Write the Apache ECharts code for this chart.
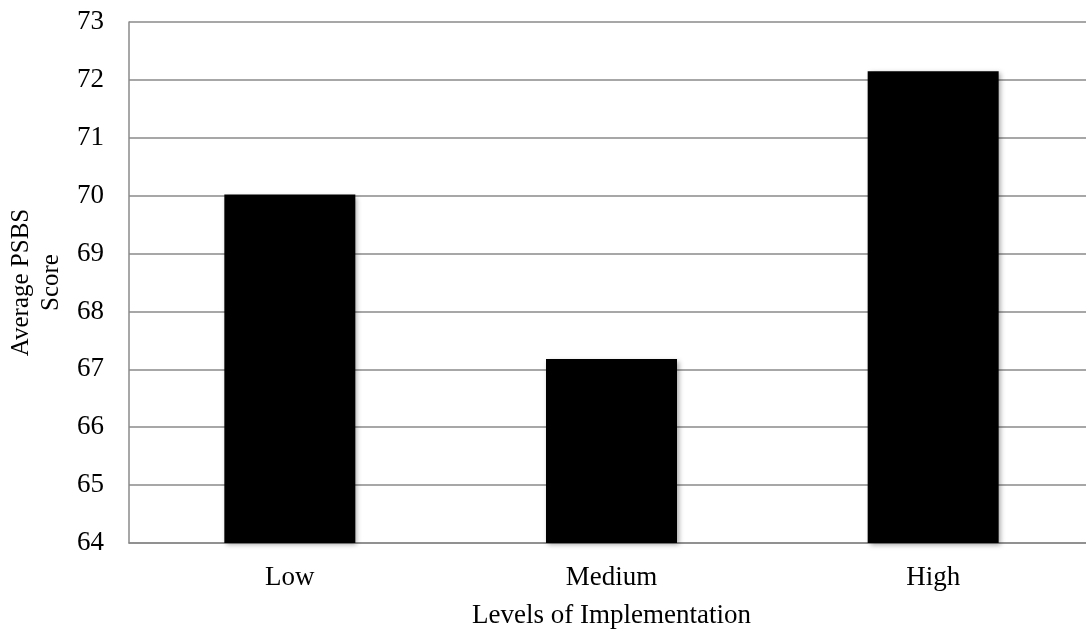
<!DOCTYPE html>
<html>
<head>
<meta charset="utf-8">
<script src="https://cdn.jsdelivr.net/npm/echarts@6/dist/echarts.min.js"></script>
<style>html,body{margin:0;padding:0;background:#fff;}#c{width:1086px;height:629px;}</style>
</head>
<body>
<div id="c"></div>
<script>
const categories = ['Low', 'Medium', 'High'];
const scores = [70.02, 67.18, 72.15];
const yMin = 64, yMax = 73, yStep = 1;
const xTitle = 'Levels of Implementation';
const yTitle = 'Average PSBS\nScore';

const font = '"Liberation Serif", "DejaVu Serif", serif';
const chart = echarts.init(document.getElementById('c'), null, {renderer: 'canvas'});
chart.setOption({
  animation: false,
  backgroundColor: '#fff',
  grid: {left: 129, top: 22, width: 965, height: 521, containLabel: false, outerBoundsMode: 'none'},
  xAxis: {
    type: 'category',
    data: categories,
    name: xTitle,
    nameLocation: 'middle',
    nameGap: 59,
    nameTextStyle: {fontFamily: font, fontSize: 27, color: '#000'},
    axisLine: {show: true, lineStyle: {color: '#8a8a8a', width: 1.5}},
    axisTick: {show: false},
    axisLabel: {fontFamily: font, fontSize: 27, color: '#000', margin: 21},
    splitLine: {show: false}
  },
  yAxis: {
    type: 'value',
    min: yMin, max: yMax, interval: yStep,
    name: yTitle,
    nameLocation: 'middle',
    nameGap: 61,
    nameRotate: 90,
    nameTextStyle: {fontFamily: font, fontSize: 25, color: '#000', lineHeight: 30},
    axisLine: {show: true, lineStyle: {color: '#8a8a8a', width: 1.5}},
    axisTick: {show: false},
    axisLabel: {fontFamily: font, fontSize: 27, color: '#000', margin: 25},
    splitLine: {show: true, lineStyle: {color: '#8a8a8a', width: 1.5}}
  },
  series: [{
    type: 'bar',
    data: scores,
    barWidth: 131,
    itemStyle: {color: '#000', shadowColor: 'rgba(0,0,0,0.35)', shadowBlur: 5, shadowOffsetX: 2, shadowOffsetY: 2}
  }]
});
</script>
</body>
</html>
